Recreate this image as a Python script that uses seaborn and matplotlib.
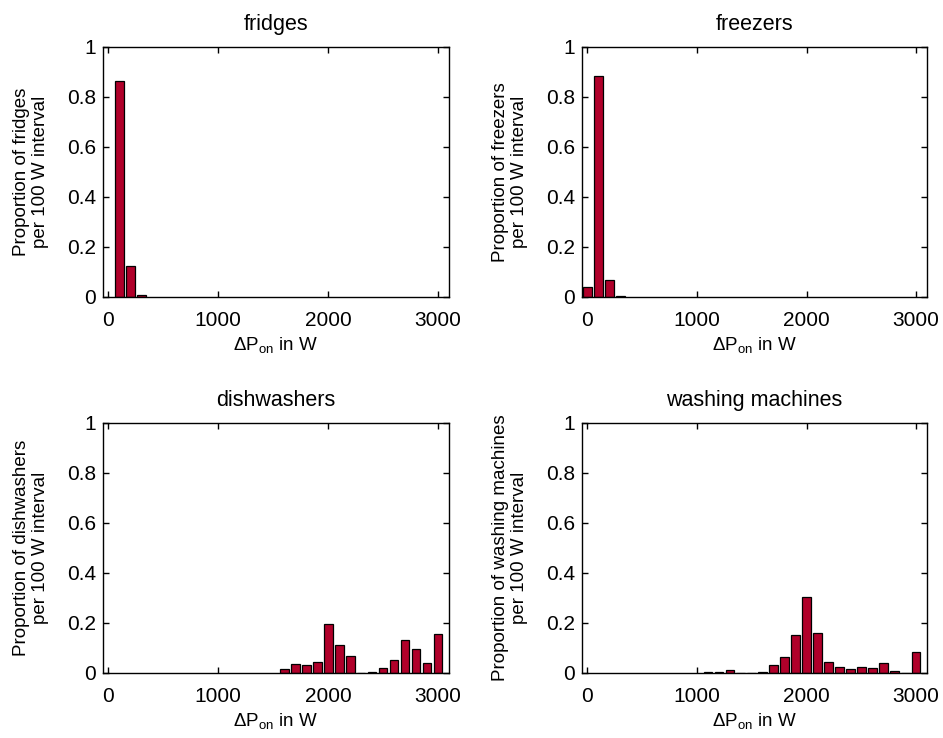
import matplotlib
matplotlib.use("Agg")
import matplotlib.pyplot as plt
import seaborn as sns
import numpy as np
import pandas as pd

sns.set_theme(style="white")
plt.rcParams['font.family'] = ['Liberation Sans', 'DejaVu Sans']
plt.rcParams['mathtext.fontset'] = 'custom'
plt.rcParams['mathtext.rm'] = 'Liberation Sans'
plt.rcParams['mathtext.it'] = 'Liberation Sans:italic'
plt.rcParams['text.color'] = 'black'
plt.rcParams['axes.labelcolor'] = 'black'
plt.rcParams['xtick.color'] = 'black'
plt.rcParams['ytick.color'] = 'black'

# ---- data ----
fridge_bins = [100, 200, 300]
fridge_vals = [0.865, 0.125, 0.008]

freezer_bins = [0, 100, 200, 300]
freezer_vals = [0.04, 0.882, 0.068, 0.004]

dish_bins = [1600, 1700, 1800, 1900, 2000, 2100, 2200, 2300, 2400, 2500,
             2600, 2700, 2800, 2900, 3000]
dish_vals = [0.015, 0.035, 0.032, 0.042, 0.197, 0.11, 0.067, 0.0, 0.005, 0.02,
             0.05, 0.13, 0.095, 0.04, 0.155]

wash_bins = [1100, 1200, 1300, 1400, 1500, 1600, 1700, 1800, 1900, 2000,
             2100, 2200, 2300, 2400, 2500, 2600, 2700, 2800, 2900, 3000]
wash_vals = [0.002, 0.003, 0.012, 0.0, 0.0, 0.003, 0.032, 0.065, 0.152, 0.305,
             0.16, 0.045, 0.025, 0.015, 0.025, 0.02, 0.04, 0.008, 0.0, 0.082]

titles = ["fridges", "freezers", "dishwashers", "washing machines"]
series = [(fridge_bins, fridge_vals), (freezer_bins, freezer_vals),
          (dish_bins, dish_vals), (wash_bins, wash_vals)]
xticks = [0, 1000, 2000, 3000]
yticks = [0, 0.2, 0.4, 0.6, 0.8, 1]
ytick_labels = ["0", "0.2", "0.4", "0.6", "0.8", "1"]

bar_color = "#B0002A"

fig = plt.figure(figsize=(9.43, 7.38), dpi=100)
positions = [
    [0.1092, 0.5976, 0.3669, 0.3388],
    [0.6172, 0.5976, 0.3659, 0.3388],
    [0.1092, 0.0881, 0.3669, 0.3388],
    [0.6172, 0.0881, 0.3659, 0.3388],
]

for pos, title, (bins, vals) in zip(positions, titles, series):
    ax = fig.add_axes(pos)
    df = pd.DataFrame({"x": bins, "y": vals})
    sns.barplot(data=df, x="x", y="y", native_scale=True, width=0.8,
                color=bar_color, edgecolor="black", linewidth=0.9,
                saturation=1, ax=ax)
    ax.set_xlim(-50, 3100)
    ax.set_ylim(0, 1)
    ax.set_xticks(xticks)
    ax.set_xticklabels([str(t) for t in xticks])
    ax.set_yticks(yticks)
    ax.set_yticklabels(ytick_labels)
    ax.tick_params(direction="in", length=4, width=1, top=True, right=True,
                   bottom=True, left=True, labelsize=15, colors="black")
    ax.tick_params(axis="x", pad=10)
    ax.tick_params(axis="y", pad=5)
    for sp in ax.spines.values():
        sp.set_visible(True)
        sp.set_color("black")
        sp.set_linewidth(1.0)
    ax.set_title(title, fontsize=15.5, pad=12, color="black")
    ax.set_xlabel(r"$\Delta$P$_{\mathrm{on}}$ in W", fontsize=13.5, labelpad=4)
    ax.set_ylabel(f"Proportion of {title}\nper 100 W interval", fontsize=13.5,
                  labelpad=13, linespacing=1.15)
    ax.grid(False)

fig.savefig("out.png", dpi=100, facecolor="white")
